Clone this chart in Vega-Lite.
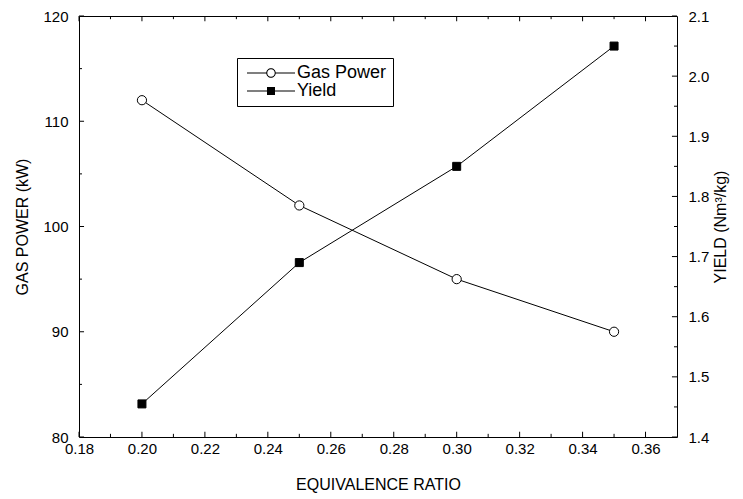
{
  "$schema": "https://vega.github.io/schema/vega-lite/v6.json",
  "width": 598,
  "height": 421,
  "autosize": {"type": "none"},
  "padding": {"left": 79, "top": 16, "right": 66, "bottom": 62},
  "background": "white",
  "config": {
    "view": {"stroke": null},
    "font": "Liberation Sans",
    "axis": {
      "domainColor": "black", "domainWidth": 1, "ticks": false,
      "labelColor": "black", "labelFont": "Liberation Sans", "labelFontSize": 15,
      "titleFont": "Liberation Sans", "titleFontSize": 16, "titleFontWeight": "normal", "titleColor": "black",
      "grid": false, "labelFlush": false, "labelOverlap": false
    }
  },
  "datasets": {
    "gas": [
      {"ratio": 0.20, "series": "Gas Power", "value": 112},
      {"ratio": 0.25, "series": "Gas Power", "value": 102},
      {"ratio": 0.30, "series": "Gas Power", "value": 95},
      {"ratio": 0.35, "series": "Gas Power", "value": 90}
    ],
    "yield": [
      {"ratio": 0.20, "series": "Yield", "value": 1.455},
      {"ratio": 0.25, "series": "Yield", "value": 1.69},
      {"ratio": 0.30, "series": "Yield", "value": 1.85},
      {"ratio": 0.35, "series": "Yield", "value": 2.05}
    ],
    "xticks": [
      {"v": 0.18, "kind": "major"}, {"v": 0.19, "kind": "minor"}, {"v": 0.20, "kind": "major"}, {"v": 0.21, "kind": "minor"},
      {"v": 0.22, "kind": "major"}, {"v": 0.23, "kind": "minor"}, {"v": 0.24, "kind": "major"}, {"v": 0.25, "kind": "minor"},
      {"v": 0.26, "kind": "major"}, {"v": 0.27, "kind": "minor"}, {"v": 0.28, "kind": "major"}, {"v": 0.29, "kind": "minor"},
      {"v": 0.30, "kind": "major"}, {"v": 0.31, "kind": "minor"}, {"v": 0.32, "kind": "major"}, {"v": 0.33, "kind": "minor"},
      {"v": 0.34, "kind": "major"}, {"v": 0.35, "kind": "minor"}, {"v": 0.36, "kind": "major"}
    ],
    "gasticks": [
      {"v": 80, "kind": "major"}, {"v": 85, "kind": "minor"}, {"v": 90, "kind": "major"}, {"v": 95, "kind": "minor"},
      {"v": 100, "kind": "major"}, {"v": 105, "kind": "minor"}, {"v": 110, "kind": "major"}, {"v": 115, "kind": "minor"},
      {"v": 120, "kind": "major"}
    ],
    "yieldticks": [
      {"v": 1.4, "kind": "major"}, {"v": 1.45, "kind": "minor"}, {"v": 1.5, "kind": "major"}, {"v": 1.55, "kind": "minor"},
      {"v": 1.6, "kind": "major"}, {"v": 1.65, "kind": "minor"}, {"v": 1.7, "kind": "major"}, {"v": 1.75, "kind": "minor"},
      {"v": 1.8, "kind": "major"}, {"v": 1.85, "kind": "minor"}, {"v": 1.9, "kind": "major"}, {"v": 1.95, "kind": "minor"},
      {"v": 2.0, "kind": "major"}, {"v": 2.05, "kind": "minor"}, {"v": 2.1, "kind": "major"}
    ]
  },
  "layer": [
    {
      "data": {"name": "xticks"},
      "transform": [{"filter": "datum.kind == 'major'"}],
      "mark": {"type": "rule", "color": "black", "strokeWidth": 1},
      "encoding": {
        "x": {"field": "v", "type": "quantitative", "scale": {"domain": [0.18, 0.37], "nice": false, "zero": false}, "axis": null},
        "y": {"datum": 80, "type": "quantitative", "scale": {"domain": [80, 120], "nice": false, "zero": false}, "axis": null},
        "y2": {"datum": 80.5}
      }
    },
    {
      "data": {"name": "xticks"},
      "transform": [{"filter": "datum.kind == 'minor'"}],
      "mark": {"type": "rule", "color": "black", "strokeWidth": 1},
      "encoding": {
        "x": {"field": "v", "type": "quantitative", "scale": {"domain": [0.18, 0.37], "nice": false, "zero": false}, "axis": null},
        "y": {"datum": 80, "type": "quantitative", "scale": {"domain": [80, 120], "nice": false, "zero": false}, "axis": null},
        "y2": {"datum": 80.3}
      }
    },
    {
      "data": {"name": "xticks"},
      "transform": [{"filter": "datum.kind == 'major'"}],
      "mark": {"type": "rule", "color": "black", "strokeWidth": 1},
      "encoding": {
        "x": {"field": "v", "type": "quantitative", "scale": {"domain": [0.18, 0.37], "nice": false, "zero": false}, "axis": null},
        "y": {"datum": 120, "type": "quantitative", "scale": {"domain": [80, 120], "nice": false, "zero": false}, "axis": null},
        "y2": {"datum": 119.5}
      }
    },
    {
      "data": {"name": "xticks"},
      "transform": [{"filter": "datum.kind == 'minor'"}],
      "mark": {"type": "rule", "color": "black", "strokeWidth": 1},
      "encoding": {
        "x": {"field": "v", "type": "quantitative", "scale": {"domain": [0.18, 0.37], "nice": false, "zero": false}, "axis": null},
        "y": {"datum": 120, "type": "quantitative", "scale": {"domain": [80, 120], "nice": false, "zero": false}, "axis": null},
        "y2": {"datum": 119.7}
      }
    },
    {
      "data": {"name": "gasticks"},
      "transform": [{"filter": "datum.kind == 'major'"}],
      "mark": {"type": "rule", "color": "black", "strokeWidth": 1},
      "encoding": {
        "x": {"datum": 0.18, "type": "quantitative", "scale": {"domain": [0.18, 0.37], "nice": false, "zero": false}, "axis": null},
        "x2": {"datum": 0.1816},
        "y": {"field": "v", "type": "quantitative", "scale": {"domain": [80, 120], "nice": false, "zero": false}, "axis": null}
      }
    },
    {
      "data": {"name": "gasticks"},
      "transform": [{"filter": "datum.kind == 'minor'"}],
      "mark": {"type": "rule", "color": "black", "strokeWidth": 1},
      "encoding": {
        "x": {"datum": 0.18, "type": "quantitative", "scale": {"domain": [0.18, 0.37], "nice": false, "zero": false}, "axis": null},
        "x2": {"datum": 0.18095},
        "y": {"field": "v", "type": "quantitative", "scale": {"domain": [80, 120], "nice": false, "zero": false}, "axis": null}
      }
    },
    {
      "data": {"name": "yieldticks"},
      "transform": [{"filter": "datum.kind == 'major'"}],
      "mark": {"type": "rule", "color": "black", "strokeWidth": 1},
      "encoding": {
        "x": {"datum": 0.37, "type": "quantitative", "scale": {"domain": [0.18, 0.37], "nice": false, "zero": false}, "axis": null},
        "x2": {"datum": 0.3684},
        "y": {"field": "v", "type": "quantitative", "scale": {"domain": [1.4, 2.1], "nice": false, "zero": false}, "axis": null}
      }
    },
    {
      "data": {"name": "yieldticks"},
      "transform": [{"filter": "datum.kind == 'minor'"}],
      "mark": {"type": "rule", "color": "black", "strokeWidth": 1},
      "encoding": {
        "x": {"datum": 0.37, "type": "quantitative", "scale": {"domain": [0.18, 0.37], "nice": false, "zero": false}, "axis": null},
        "x2": {"datum": 0.36905},
        "y": {"field": "v", "type": "quantitative", "scale": {"domain": [1.4, 2.1], "nice": false, "zero": false}, "axis": null}
      }
    },
    {
      "data": {"name": "gas"},
      "encoding": {
        "x": {
          "field": "ratio", "type": "quantitative",
          "scale": {"domain": [0.18, 0.37], "nice": false, "zero": false},
          "axis": {
            "orient": "bottom",
            "values": [0.18, 0.20, 0.22, 0.24, 0.26, 0.28, 0.30, 0.32, 0.34, 0.36],
            "format": ".2f",
            "title": "EQUIVALENCE RATIO",
            "labelPadding": 4,
            "titlePadding": 20
          }
        },
        "y": {
          "field": "value", "type": "quantitative",
          "scale": {"domain": [80, 120], "nice": false, "zero": false},
          "axis": {
            "orient": "left",
            "values": [80, 90, 100, 110, 120],
            "title": "GAS POWER (kW)",
            "labelPadding": 11,
            "titlePadding": 12
          }
        }
      },
      "layer": [
        {"mark": {"type": "line", "color": "black", "strokeWidth": 1}},
        {"mark": {"type": "point", "shape": "circle", "filled": true, "fill": "white", "stroke": "black", "strokeWidth": 1, "opacity": 1, "size": 85}}
      ]
    },
    {
      "data": {"name": "yield"},
      "encoding": {
        "x": {
          "field": "ratio", "type": "quantitative",
          "scale": {"domain": [0.18, 0.37], "nice": false, "zero": false},
          "axis": {"orient": "top", "labels": false, "title": null}
        },
        "y": {
          "field": "value", "type": "quantitative",
          "scale": {"domain": [1.4, 2.1], "nice": false, "zero": false},
          "axis": {
            "orient": "right",
            "values": [1.4, 1.5, 1.6, 1.7, 1.8, 1.9, 2.0, 2.1],
            "format": ".1f",
            "title": "YIELD (Nm³/kg)",
            "titleAngle": 270,
            "titleBaseline": "top",
            "labelPadding": 11,
            "titlePadding": 4
          }
        }
      },
      "layer": [
        {"mark": {"type": "line", "color": "black", "strokeWidth": 1}},
        {"mark": {"type": "point", "shape": "square", "filled": true, "fill": "black", "stroke": "black", "strokeWidth": 1, "opacity": 1, "size": 64}}
      ]
    },
    {
      "data": {"name": "gas"},
      "mark": {"type": "point", "filled": true, "color": "black", "opacity": 1, "size": 0},
      "encoding": {
        "x": {"field": "ratio", "type": "quantitative", "scale": {"domain": [0.18, 0.37], "nice": false, "zero": false}, "axis": null},
        "y": {"field": "value", "type": "quantitative", "scale": {"domain": [80, 120], "nice": false, "zero": false}, "axis": null},
        "shape": {
          "field": "series", "type": "nominal",
          "scale": {"domain": ["Gas Power", "Yield"], "range": [
            "M-4.8,-0.1L-0.9,-0.1L-0.9,0.1L-4.8,0.1ZM0.9,-0.1L4.8,-0.1L4.8,0.1L0.9,0.1ZM-0.95,0A0.95,0.95,0,1,1,0.95,0A0.95,0.95,0,1,1,-0.95,0ZM-0.75,0A0.75,0.75,0,1,0,0.75,0A0.75,0.75,0,1,0,-0.75,0Z",
            "M-4.8,-0.1L4.8,-0.1L4.8,0.1L-4.8,0.1ZM-0.8,-0.8L0.8,-0.8L0.8,0.8L-0.8,0.8Z"
          ]},
          "legend": {
            "orient": "none", "legendX": 158, "legendY": 42, "title": null,
            "padding": 6, "strokeColor": "black", "fillColor": "white",
            "labelFontSize": 18, "labelFont": "Liberation Sans", "labelColor": "black",
            "symbolSize": 100, "symbolOffset": 19, "labelOffset": 17, "rowPadding": 0,
            "symbolFillColor": "black", "symbolStrokeWidth": 0, "symbolOpacity": 1
          }
        }
      }
    }
  ],
  "resolve": {"scale": {"y": "independent"}, "axis": {"x": "independent", "y": "independent"}}
}
